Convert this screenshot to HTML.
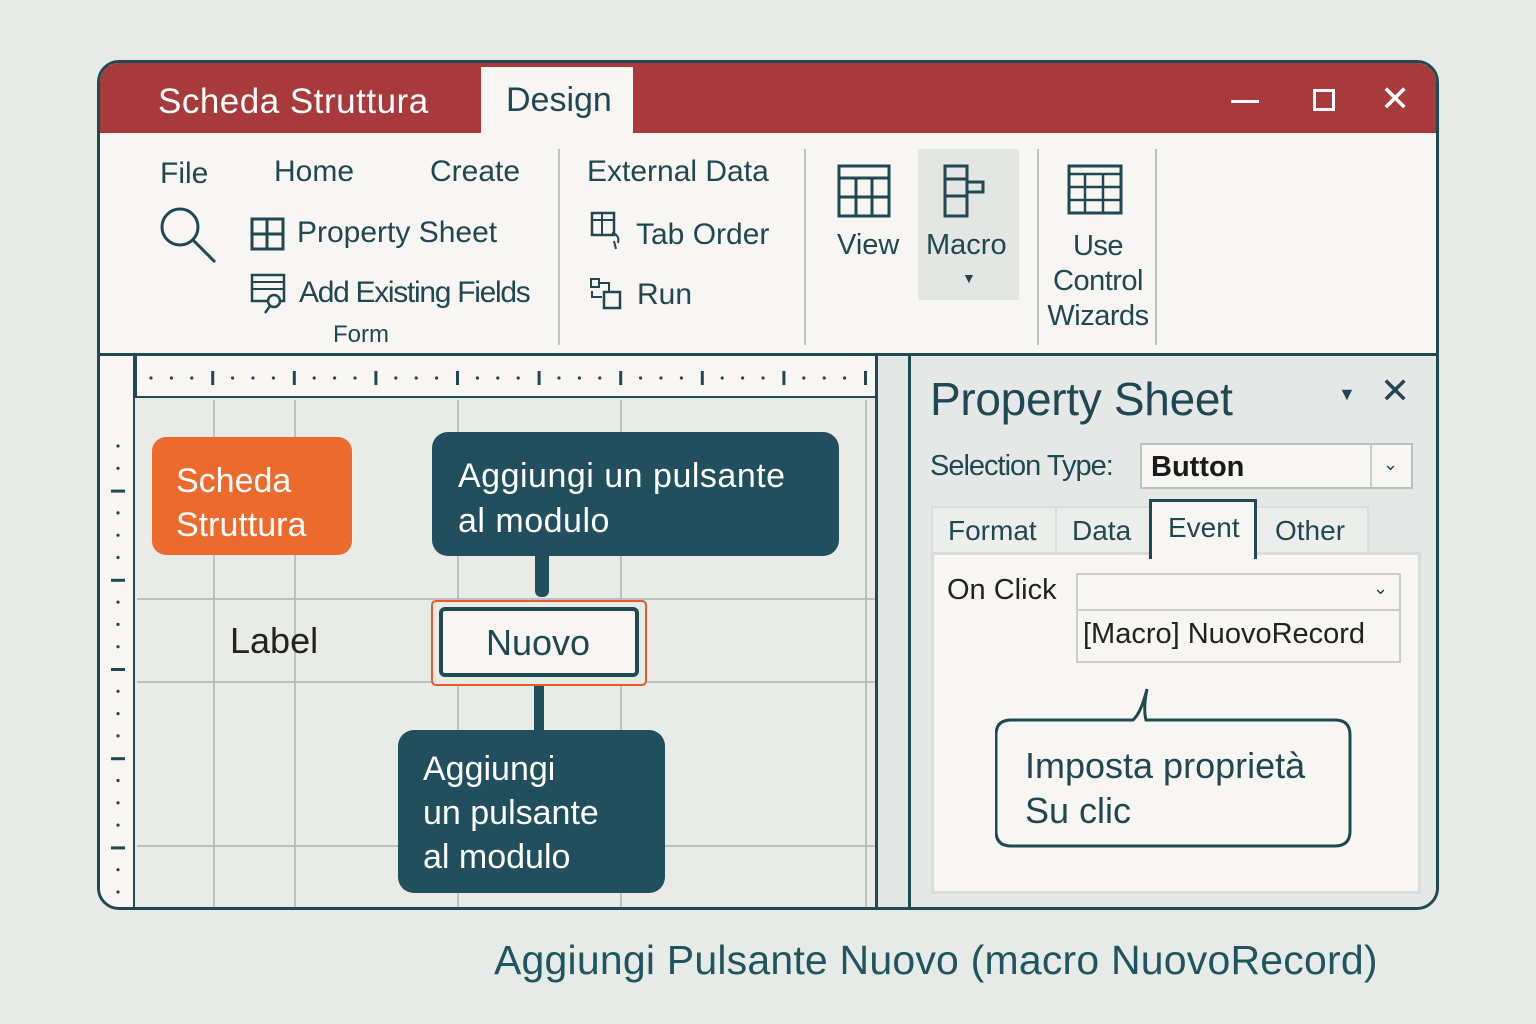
<!DOCTYPE html>
<html><head><meta charset="utf-8"><style>
*{margin:0;padding:0;box-sizing:border-box}
body{width:1536px;height:1024px;background:#e7ebe8;font-family:"Liberation Sans","DejaVu Sans",sans-serif;color:#1f4852;position:relative;overflow:hidden}
.a{position:absolute}
.t{position:absolute;white-space:nowrap;line-height:1}
#win{left:97px;top:60px;width:1342px;height:850px;border:3px solid #1f4a52;border-radius:22px;overflow:hidden;background:#f8f6f2}
.vl{position:absolute;width:2px;background:#b9c1c1}
.hl{position:absolute;height:2px;background:#b9c1c1}
.dark{background:#214f5d;color:#fff;border-radius:16px}
</style></head><body>
<div id="win" class="a">
 <div class="a" style="left:0;top:0;width:1342px;height:70px;background:#a83a3b"></div>
 <div class="a" style="left:381px;top:4px;width:152px;height:68px;background:#f8f6f2"></div>
 <div class="t" style="left:58px;top:21px;font-size:35px;color:#fff;letter-spacing:0.5px">Scheda Struttura</div>
 <div class="t" style="left:406px;top:20px;font-size:34px;color:#1f4852">Design</div>
 <div class="a" style="left:1131px;top:37px;width:28px;height:3px;background:#fff"></div>
 <div class="a" style="left:1213px;top:26px;width:22px;height:22px;border:3px solid #fff"></div>
 <div class="t" style="left:1280px;top:18px;font-size:36px;color:#fff">✕</div>
 <div class="t" style="left:60px;top:96px;font-size:30px">File</div>
 <div class="t" style="left:174px;top:94px;font-size:30px">Home</div>
 <div class="t" style="left:330px;top:94px;font-size:30px">Create</div>
 <svg class="a" style="left:58px;top:142px" width="64" height="64"><circle cx="22" cy="22" r="18" fill="none" stroke="#1f4852" stroke-width="3"/><line x1="35" y1="35" x2="57" y2="57" stroke="#1f4852" stroke-width="3"/></svg>
 <svg class="a" style="left:150px;top:154px" width="36" height="34"><rect x="2" y="2" width="31" height="30" fill="none" stroke="#1f4852" stroke-width="3"/><line x1="17" y1="2" x2="17" y2="32" stroke="#1f4852" stroke-width="3"/><line x1="2" y1="17" x2="33" y2="17" stroke="#1f4852" stroke-width="3"/></svg>
 <div class="t" style="left:197px;top:155px;font-size:30px">Property Sheet</div>
 <svg class="a" style="left:150px;top:210px" width="40" height="42"><rect x="2" y="2" width="32" height="26" fill="none" stroke="#1f4852" stroke-width="2.5"/><line x1="2" y1="9" x2="34" y2="9" stroke="#1f4852" stroke-width="2"/><line x1="2" y1="16" x2="34" y2="16" stroke="#1f4852" stroke-width="2"/><circle cx="24" cy="28" r="6" fill="#f8f6f2" stroke="#1f4852" stroke-width="2.5"/><line x1="20" y1="33" x2="15" y2="40" stroke="#1f4852" stroke-width="2.5"/></svg>
 <div class="t" style="left:199px;top:215px;font-size:30px;letter-spacing:-1.3px">Add Existing Fields</div>
 <div class="t" style="left:233px;top:260px;font-size:24px">Form</div>
 <div class="vl" style="left:458px;top:86px;height:196px"></div>
 <div class="t" style="left:487px;top:94px;font-size:30px">External Data</div>
 <svg class="a" style="left:490px;top:148px" width="36" height="42"><rect x="2" y="2" width="22" height="22" fill="none" stroke="#1f4852" stroke-width="2.5"/><line x1="2" y1="9" x2="24" y2="9" stroke="#1f4852" stroke-width="2"/><line x1="12" y1="2" x2="12" y2="24" stroke="#1f4852" stroke-width="2"/><path d="M22 22 q8 2 6 10 M24 30 l2 8" fill="none" stroke="#1f4852" stroke-width="2"/></svg>
 <div class="t" style="left:536px;top:157px;font-size:30px">Tab Order</div>
 <svg class="a" style="left:490px;top:214px" width="36" height="36"><rect x="1" y="2" width="8" height="8" fill="none" stroke="#1f4852" stroke-width="2"/><rect x="14" y="15" width="16" height="16" fill="none" stroke="#1f4852" stroke-width="2.5"/><path d="M9 6 h10 v8 M2 14 v6 h10" fill="none" stroke="#1f4852" stroke-width="2"/></svg>
 <div class="t" style="left:537px;top:217px;font-size:30px">Run</div>
 <div class="vl" style="left:704px;top:86px;height:196px"></div>
 <svg class="a" style="left:737px;top:101px" width="56" height="54"><rect x="2" y="2" width="50" height="50" fill="none" stroke="#1f4852" stroke-width="3"/><line x1="2" y1="14" x2="52" y2="14" stroke="#1f4852" stroke-width="3"/><line x1="2" y1="33" x2="52" y2="33" stroke="#1f4852" stroke-width="3"/><line x1="19" y1="14" x2="19" y2="52" stroke="#1f4852" stroke-width="3"/><line x1="35" y1="14" x2="35" y2="52" stroke="#1f4852" stroke-width="3"/></svg>
 <div class="t" style="left:737px;top:168px;font-size:29px">View</div>
 <div class="a" style="left:818px;top:86px;width:101px;height:151px;background:#e3e6e3"></div>
 <svg class="a" style="left:843px;top:101px" width="56" height="56"><rect x="2" y="2" width="22" height="50" fill="none" stroke="#1f4852" stroke-width="3"/><line x1="2" y1="15" x2="24" y2="15" stroke="#1f4852" stroke-width="3"/><line x1="2" y1="32" x2="24" y2="32" stroke="#1f4852" stroke-width="3"/><path d="M24 18 h16 v10 h-16" fill="none" stroke="#1f4852" stroke-width="3"/></svg>
 <div class="t" style="left:826px;top:168px;font-size:29px">Macro</div>
 <div class="t" style="left:862px;top:208px;font-size:14px">▼</div>
 <div class="vl" style="left:937px;top:86px;height:196px"></div>
 <svg class="a" style="left:967px;top:101px" width="58" height="52"><rect x="2" y="2" width="52" height="47" fill="none" stroke="#1f4852" stroke-width="3"/><line x1="2" y1="10" x2="54" y2="10" stroke="#1f4852" stroke-width="2.5"/><line x1="2" y1="23" x2="54" y2="23" stroke="#1f4852" stroke-width="2.5"/><line x1="2" y1="36" x2="54" y2="36" stroke="#1f4852" stroke-width="2.5"/><line x1="18" y1="10" x2="18" y2="49" stroke="#1f4852" stroke-width="2.5"/><line x1="36" y1="10" x2="36" y2="49" stroke="#1f4852" stroke-width="2.5"/></svg>
 <div class="a" style="left:938px;top:166px;width:120px;text-align:center;font-size:29px;line-height:35px;letter-spacing:-0.5px">Use<br>Control<br>Wizards</div>
 <div class="vl" style="left:1055px;top:86px;height:196px"></div>
 <div class="a" style="left:0;top:290px;width:1342px;height:3px;background:#1f4a52"></div>
 <div class="a" style="left:0;top:293px;width:778px;height:560px;background:#e9ebe7"></div>
 <div class="a" style="left:0;top:293px;width:35px;height:560px;background:#f8f6f2;border-right:2px solid #1f4a52"></div>
 <div class="a" style="left:35px;top:293px;width:743px;height:42px;background:#f8f6f2;border-bottom:2px solid #1f4a52;border-left:2px solid #1f4a52"></div>
 <svg class="a" style="left:37px;top:296px" width="740" height="38" id="rul"></svg>
 <svg class="a" style="left:8px;top:340px" width="26" height="500" id="rulv"></svg>
 <div class="vl" style="left:113px;top:337px;height:516px"></div>
 <div class="vl" style="left:194px;top:337px;height:516px"></div>
 <div class="vl" style="left:357px;top:337px;height:516px"></div>
 <div class="vl" style="left:520px;top:337px;height:516px"></div>
 <div class="vl" style="left:765px;top:337px;height:516px"></div>
 <div class="hl" style="left:37px;top:535px;width:740px"></div>
 <div class="hl" style="left:37px;top:618px;width:740px"></div>
 <div class="hl" style="left:37px;top:782px;width:740px"></div>
 <div class="a" style="left:775px;top:293px;width:3px;height:560px;background:#1f4a52"></div>
 <div class="a" style="left:778px;top:293px;width:30px;height:560px;background:#e3e7e5"></div>
 <div class="a" style="left:808px;top:293px;width:3px;height:560px;background:#1f4a52"></div>
 <div class="a" style="left:52px;top:374px;width:200px;height:118px;background:#ec6a2e;border-radius:14px"></div>
 <div class="t" style="left:76px;top:396px;font-size:34px;color:#fff;line-height:44px">Scheda<br>Struttura</div>
 <div class="a dark" style="left:332px;top:369px;width:407px;height:124px"></div>
 <div class="t" style="left:358px;top:391px;font-size:34px;color:#fff;line-height:45px;letter-spacing:0.5px">Aggiungi un pulsante<br>al modulo</div>
 <div class="a" style="left:435px;top:470px;width:14px;height:64px;background:#214f5d;border-radius:6px"></div>
 <div class="a" style="left:331px;top:537px;width:216px;height:86px;border:2px solid #ec5a2a;border-radius:5px;background:#e9ebe7"></div>
 <div class="a" style="left:339px;top:544px;width:200px;height:70px;border:4px solid #1f4a52;border-radius:6px;background:#f8f6f2"></div>
 <div class="t" style="left:386px;top:562px;font-size:36px">Nuovo</div>
 <div class="t" style="left:130px;top:560px;font-size:36px;color:#222">Label</div>
 <div class="a" style="left:434px;top:623px;width:10px;height:46px;background:#214f5d"></div>
 <div class="a dark" style="left:298px;top:667px;width:267px;height:163px"></div>
 <div class="t" style="left:323px;top:684px;font-size:34px;color:#fff;line-height:44px">Aggiungi<br>un pulsante<br>al modulo</div>
 <div class="a" style="left:811px;top:293px;width:531px;height:560px;background:#e4e9e7"></div>
 <div class="t" style="left:830px;top:313px;font-size:46px;letter-spacing:-0.3px">Property Sheet</div>
 <div class="t" style="left:1238px;top:322px;font-size:18px">▼</div>
 <div class="t" style="left:1280px;top:310px;font-size:36px">✕</div>
 <div class="t" style="left:830px;top:389px;font-size:29px;letter-spacing:-1px">Selection Type:</div>
 <div class="a" style="left:1040px;top:380px;width:273px;height:46px;border:2px solid #b9c1c1;background:#f8f6f2"></div>
 <div class="a" style="left:1270px;top:382px;width:2px;height:42px;background:#c8cecc"></div>
 <div class="t" style="left:1051px;top:390px;font-size:29px;font-weight:bold;color:#1a1a1a">Button</div>
 <div class="t" style="left:1283px;top:392px;font-size:18px">⌄</div>
 <div class="a" style="left:831px;top:443px;width:438px;height:48px;background:#eceeeb;border:2px solid #d9dedc"></div>
 <div class="a" style="left:955px;top:443px;width:2px;height:48px;background:#d9dedc"></div>
 <div class="t" style="left:848px;top:454px;font-size:28px">Format</div>
 <div class="t" style="left:972px;top:454px;font-size:28px">Data</div>
 <div class="t" style="left:1175px;top:454px;font-size:28px">Other</div>
 <div class="a" style="left:831px;top:489px;width:490px;height:342px;background:#f8f6f2;border:3px solid #d9dedc"></div>
 <div class="a" style="left:1049px;top:436px;width:108px;height:60px;background:#f8f6f2;border:3px solid #1f4a52;border-bottom:none"></div>
 <div class="t" style="left:1068px;top:451px;font-size:28px">Event</div>
 <div class="t" style="left:847px;top:513px;font-size:29px;color:#222">On Click</div>
 <div class="a" style="left:976px;top:510px;width:325px;height:90px;border:2px solid #c8cecc;background:#f8f6f2"></div>
 <div class="a" style="left:976px;top:546px;width:325px;height:2px;background:#c8cecc"></div>
 <div class="t" style="left:1273px;top:516px;font-size:18px">⌄</div>
 <div class="t" style="left:983px;top:557px;font-size:29px;color:#222">[Macro] NuovoRecord</div>
 <svg class="a" style="left:895px;top:620px" width="365" height="170"><path d="M16 37 H138 Q146 30 152 6 Q148 26 151 37 H340 Q355 37 355 52 V148 Q355 163 340 163 H16 Q1 163 1 148 V52 Q1 37 16 37 Z" fill="#f8f6f2" stroke="#1f4a52" stroke-width="3"/></svg>
 <div class="t" style="left:925px;top:680px;font-size:36px;line-height:45px">Imposta proprietà<br>Su clic</div>
</div>
<div class="t" style="left:494px;top:940px;font-size:41px;color:#1f5560;letter-spacing:0.2px">Aggiungi Pulsante Nuovo (macro NuovoRecord)</div>
<script>
var s='',v='';
for(var i=0;i<40;i++){var x=14+i*20.4;if(i%4==3)s+='<rect x="'+(x-1)+'" y="12" width="3" height="14" fill="#1f4852"/>';else s+='<circle cx="'+x+'" cy="19" r="1.6" fill="#1f4852"/>';}
document.getElementById('rul').innerHTML=s;
for(var j=0;j<23;j++){var y=43+j*22.3;if(j%4==2)v+='<rect x="3" y="'+(y-1)+'" width="14" height="3" fill="#1f4852"/>';else v+='<circle cx="10" cy="'+y+'" r="1.6" fill="#1f4852"/>';}
document.getElementById('rulv').innerHTML=v;
</script>
</body></html>
